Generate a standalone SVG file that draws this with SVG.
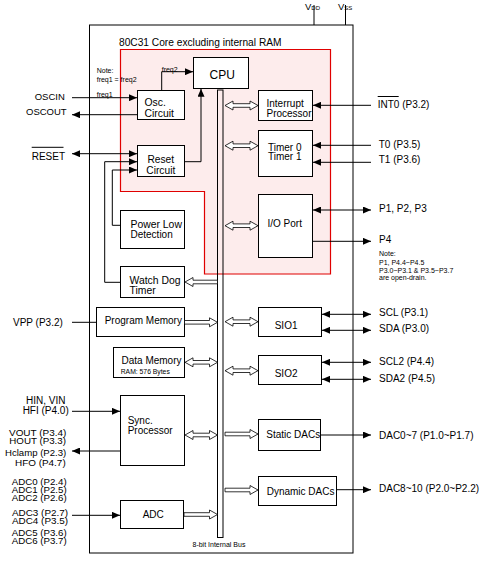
<svg xmlns="http://www.w3.org/2000/svg" width="485" height="567" viewBox="0 0 485 567">
<style>
text{font-family:"Liberation Sans",Arial,sans-serif;font-size:10px;fill:#000}
.s{font-size:7px}
.t{font-size:8.6px}
.box{fill:#fff;stroke:#000;stroke-width:1}
.pbox{fill:none;stroke:#000;stroke-width:1}
.ln{fill:none;stroke:#000;stroke-width:1}
.ha{fill:#fff;stroke:#000;stroke-width:0.8}
.e{text-anchor:end}
</style>
<defs>
<marker id="ah" markerUnits="userSpaceOnUse" markerWidth="8" markerHeight="7" refX="8" refY="3.5" orient="auto-start-reverse" viewBox="0 0 8 7"><path d="M0,0 L8,3.5 L0,7 z" fill="#000"/></marker>
</defs>
<rect width="485" height="567" fill="#fff"/>
<g id="chip">
<rect x="89.5" y="25" width="263.5" height="528" class="pbox"/>
<path d="M120.5,49.5 H330.5 V274 H204.5 V191.5 H120.5 Z" fill="#fdecec" stroke="#e00000" stroke-width="1.2"/>
<text x="119" y="46" style="font-size:10.2px">80C31 Core excluding internal RAM</text>
<line x1="314" y1="5" x2="314" y2="25" class="ln"/>
<line x1="345.5" y1="5" x2="345.5" y2="25" class="ln"/>
<text x="305" y="10" style="font-size:9.5px">V<tspan style="font-size:6px">DD</tspan></text>
<text x="338" y="10" style="font-size:9.5px">V<tspan style="font-size:6px">SS</tspan></text>
</g>
<g id="bus">
<rect x="217.5" y="90" width="5.5" height="447.5" class="pbox"/>
<text x="192.5" y="547" class="s">8-bit Internal Bus</text>
</g>
<g id="cpu"><rect x="193.5" y="57.5" width="55" height="31" class="box"/><text x="209.5" y="78.5" style="font-size:12px">CPU</text></g>
<g id="osc"><rect x="137.5" y="90.5" width="47" height="29" class="box"/><text x="144.5" y="106" style="font-size:10.4px">Osc.</text><text x="144.5" y="116.7" style="font-size:10.4px">Circuit</text></g>
<g id="reset"><rect x="137.5" y="145.5" width="47" height="31" class="box"/><text x="160.8" y="163.3" text-anchor="middle" style="font-size:10.2px">Reset</text><text x="160.8" y="173.7" text-anchor="middle" style="font-size:10.2px">Circuit</text></g>
<g id="interrupt"><rect x="258.5" y="90.5" width="54" height="30" class="box"/><text x="266.5" y="107.3">Interrupt</text><text x="266.5" y="116.7">Processor</text></g>
<g id="timer"><rect x="258.5" y="130.5" width="54" height="46" class="box"/><text x="268" y="150.7">Timer 0</text><text x="268" y="159.7">Timer 1</text></g>
<g id="io"><rect x="258.5" y="194.5" width="54" height="63" class="box"/><text x="267.5" y="226.7">I/O Port</text></g>
<g id="powerlow"><rect x="120.5" y="210.5" width="64" height="38" class="box"/><text x="130.5" y="227.7" style="font-size:10.4px">Power Low</text><text x="130.5" y="238">Detection</text></g>
<g id="watchdog"><rect x="120.5" y="266.5" width="64" height="31" class="box"/><text x="129.5" y="283.7" style="font-size:10.4px">Watch Dog</text><text x="129.5" y="294.3" style="font-size:10.4px">Timer</text></g>
<g id="progmem"><rect x="96.5" y="307.5" width="88" height="29" class="box"/><text x="104.7" y="323.7">Program Memory</text></g>
<g id="datamem"><rect x="113.5" y="347.5" width="71" height="30" class="box"/><text x="121.5" y="364">Data Memory</text><text x="120.7" y="373.7" style="font-size:6.8px">RAM: 576 Bytes</text></g>
<g id="sync"><rect x="120.5" y="395.5" width="64" height="70" class="box"/><text x="127.7" y="424.3">Sync.</text><text x="127.7" y="434.3">Processor</text></g>
<g id="adc"><rect x="120.5" y="500.5" width="63" height="28" class="box"/><text x="142.7" y="518.3">ADC</text></g>
<g id="sio1"><rect x="258.5" y="307.5" width="63" height="29" class="box"/><text x="274.7" y="328.7">SIO1</text></g>
<g id="sio2"><rect x="258.5" y="355.5" width="63" height="29" class="box"/><text x="274.7" y="376.5">SIO2</text></g>
<g id="staticdac"><rect x="258.5" y="419.5" width="62" height="31" class="box"/><text x="266.3" y="438.3">Static DACs</text></g>
<g id="dynamicdac"><rect x="258.5" y="476.5" width="78" height="29" class="box"/><text x="266.7" y="495.3">Dynamic DACs</text></g>
<g id="labels">
<text x="34.7" y="100" style="font-size:9.5px">OSCIN</text>
<text x="26" y="115" style="font-size:9.5px">OSCOUT</text>
<text x="31.7" y="159.7">RESET</text>
<line x1="31.7" y1="147.3" x2="63.5" y2="147.3" class="ln"/>
<text x="96.7" y="72.7" class="s">Note:</text>
<text x="96.7" y="82" class="s">freq1 = freq2</text>
<text x="96.7" y="96.5" class="s">freq1</text>
<text x="161.7" y="72" class="s">freq2</text>
<text x="13" y="326">VPP (P3.2)</text>
<text x="45.7" y="404" text-anchor="middle">HIN, VIN</text>
<text x="45.7" y="413.7" text-anchor="middle">HFI (P4.0)</text>
<text x="9" y="436" class="t" textLength="57.3" lengthAdjust="spacingAndGlyphs">VOUT (P3.4)</text>
<text x="9.3" y="444" class="t" textLength="56.7" lengthAdjust="spacingAndGlyphs">HOUT (P3.3)</text>
<text x="5" y="455.5" class="t" textLength="61.3" lengthAdjust="spacingAndGlyphs">Hclamp (P2.3)</text>
<text x="15" y="466" class="t" textLength="50.7" lengthAdjust="spacingAndGlyphs">HFO (P4.7)</text>
<text x="11.7" y="485" class="t" textLength="55" lengthAdjust="spacingAndGlyphs">ADC0 (P2.4)</text>
<text x="11.7" y="493" class="t" textLength="55" lengthAdjust="spacingAndGlyphs">ADC1 (P2.5)</text>
<text x="11.7" y="500.5" class="t" textLength="55" lengthAdjust="spacingAndGlyphs">ADC2 (P2.6)</text>
<text x="12" y="516" class="t" textLength="56" lengthAdjust="spacingAndGlyphs">ADC3 (P2.7)</text>
<text x="12" y="524" class="t" textLength="56" lengthAdjust="spacingAndGlyphs">ADC4 (P3.5)</text>
<text x="11.7" y="536" class="t" textLength="55" lengthAdjust="spacingAndGlyphs">ADC5 (P3.6)</text>
<text x="11.7" y="544" class="t" textLength="55" lengthAdjust="spacingAndGlyphs">ADC6 (P3.7)</text>
<text x="377.7" y="108.3">INT0 (P3.2)</text>
<line x1="377.7" y1="96.5" x2="398.7" y2="96.5" class="ln"/>
<text x="378.7" y="148.3">T0 (P3.5)</text>
<text x="378.7" y="163.3">T1 (P3.6)</text>
<text x="379" y="211.7">P1, P2, P3</text>
<text x="379" y="243.3">P4</text>
<text x="379" y="256" class="s">Note:</text>
<text x="379" y="265" class="s">P1, P4.4~P4.5</text>
<text x="379" y="272.7" class="s">P3.0~P3.1 &amp; P3.5~P3.7</text>
<text x="379" y="280.3" class="s">are open-drain.</text>
<text x="379" y="316">SCL (P3.1)</text>
<text x="379" y="331.7">SDA (P3.0)</text>
<text x="379" y="365">SCL2 (P4.4)</text>
<text x="379" y="381.7">SDA2 (P4.5)</text>
<text x="379" y="438.7">DAC0~7 (P1.0~P1.7)</text>
<text x="379" y="492">DAC8~10 (P2.0~P2.2)</text>
</g>
<g id="connectors">
<line x1="72" y1="97.7" x2="137" y2="97.7" class="ln" marker-end="url(#ah)"/>
<line x1="137.5" y1="114.7" x2="72" y2="114.7" class="ln" marker-end="url(#ah)"/>
<line x1="72" y1="153.7" x2="137" y2="153.7" class="ln" marker-start="url(#ah)" marker-end="url(#ah)"/>
<path d="M161.7,90.5 V71.7 H193" class="ln" marker-end="url(#ah)"/>
<path d="M184.5,161.7 H201 V88.8" class="ln" marker-end="url(#ah)"/>
<path d="M120.5,282.3 H104.7 V161.7 H137" class="ln" marker-end="url(#ah)"/>
<path d="M120.5,225.3 H112.3 V170 H137" class="ln" marker-end="url(#ah)"/>
<line x1="72" y1="322.3" x2="96.5" y2="322.3" class="ln"/>
<line x1="72" y1="411.3" x2="120" y2="411.3" class="ln" marker-end="url(#ah)"/>
<line x1="120.5" y1="451" x2="72" y2="451" class="ln" marker-end="url(#ah)"/>
<line x1="72" y1="515.3" x2="120" y2="515.3" class="ln" marker-end="url(#ah)"/>
<line x1="371" y1="105.3" x2="313" y2="105.3" class="ln" marker-end="url(#ah)"/>
<line x1="371" y1="145.3" x2="313" y2="145.3" class="ln" marker-end="url(#ah)"/>
<line x1="371" y1="162.3" x2="313" y2="162.3" class="ln" marker-end="url(#ah)"/>
<line x1="313" y1="210" x2="371" y2="210" class="ln" marker-start="url(#ah)" marker-end="url(#ah)"/>
<line x1="312.5" y1="241.3" x2="371" y2="241.3" class="ln" marker-end="url(#ah)"/>
<line x1="322" y1="314.3" x2="371" y2="314.3" class="ln" marker-start="url(#ah)" marker-end="url(#ah)"/>
<line x1="322" y1="330.3" x2="371" y2="330.3" class="ln" marker-start="url(#ah)" marker-end="url(#ah)"/>
<line x1="322" y1="362.3" x2="371" y2="362.3" class="ln" marker-start="url(#ah)" marker-end="url(#ah)"/>
<line x1="322" y1="379.3" x2="371" y2="379.3" class="ln" marker-start="url(#ah)" marker-end="url(#ah)"/>
<line x1="320.5" y1="435" x2="371" y2="435" class="ln" marker-end="url(#ah)"/>
<line x1="336.5" y1="489.7" x2="371" y2="489.7" class="ln" marker-end="url(#ah)"/>
<polygon class="ha" points="225,105.5 233,101 233,103.7 250,103.7 250,101 258,105.5 250,110 250,107.3 233,107.3 233,110"/>
<polygon class="ha" points="225,145.7 233,141.2 233,143.9 250,143.9 250,141.2 258,145.7 250,150.2 250,147.5 233,147.5 233,150.2"/>
<polygon class="ha" points="225,225.7 233,221.2 233,223.9 250,223.9 250,221.2 258,225.7 250,230.2 250,227.5 233,227.5 233,230.2"/>
<polygon class="ha" points="225,321.7 233,317.2 233,319.9 250,319.9 250,317.2 258,321.7 250,326.2 250,323.5 233,323.5 233,326.2"/>
<polygon class="ha" points="225,370.7 233,366.2 233,368.9 250,368.9 250,366.2 258,370.7 250,375.2 250,372.5 233,372.5 233,375.2"/>
<polygon class="ha" points="225,432.2 250,432.2 250,429.5 258,434 250,438.5 250,435.8 225,435.8"/>
<polygon class="ha" points="225,488.2 250,488.2 250,485.5 258,490 250,494.5 250,491.8 225,491.8"/>
<polygon class="ha" points="217.5,280.2 193,280.2 193,277.5 185,282 193,286.5 193,283.8 217.5,283.8"/>
<polygon class="ha" points="184.5,320.5 209.5,320.5 209.5,317.8 217.5,322.3 209.5,326.8 209.5,324.1 184.5,324.1"/>
<polygon class="ha" points="185,362.3 193,357.8 193,360.5 209.5,360.5 209.5,357.8 217.5,362.3 209.5,366.8 209.5,364.1 193,364.1 193,366.8"/>
<polygon class="ha" points="185,435 193,430.5 193,433.2 209.5,433.2 209.5,430.5 217.5,435 209.5,439.5 209.5,436.8 193,436.8 193,439.5"/>
<polygon class="ha" points="184,512.7 209.5,512.7 209.5,510 217.5,514.5 209.5,519 209.5,516.3 184,516.3"/>
</g>
</svg>
